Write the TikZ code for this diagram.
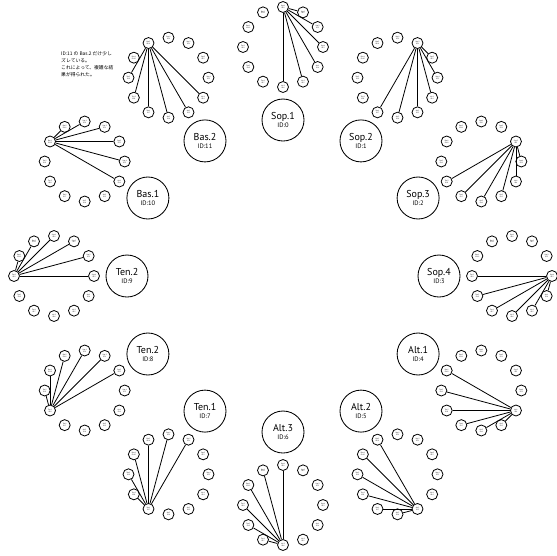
\documentclass[tikz,border=0pt]{standalone}
\usepackage{fontspec}
\setmainfont{PT Sans}
\newfontfamily\jpfont{Noto Sans CJK JP}
\begin{document}
\begin{tikzpicture}[x=1pt,y=-1pt,
  bignode/.style={draw,circle,line width=0.85pt,minimum size=42pt,inner sep=0pt,align=center,font=\fontsize{10}{9}\selectfont},
  smallnode/.style={draw,circle,line width=0.8pt,minimum size=11pt,inner sep=0pt,align=center,font=\fontsize{1.7}{1.9}\selectfont},
  link/.style={line width=0.8pt},
  note/.style={align=left,inner sep=0pt,font=\jpfont\fontsize{4.8}{7}\selectfont}]
\useasboundingbox (0,0) rectangle (557,555);
\def\cx{283}
\def\cy{276}
\def\names{{"Sop.1","Sop.2","Sop.3","Sop.4","Alt.1","Alt.2","Alt.3","Ten.1","Ten.2","Ten.2","Bas.1","Bas.2"}}
\foreach \k in {0,...,11} {
  \pgfmathsetmacro\bx{\cx+156*sin(30*\k)}
  \pgfmathsetmacro\by{\cy-156*cos(30*\k)}
  \pgfmathsetmacro\nm{\names[\k]}
  \node[bignode] (B\k) at (\bx,\by) {\nm\\[-1pt]{\fontsize{6.5}{6.5}\selectfont ID:\k}};
  \pgfmathsetmacro\rx{\cx+229*sin(30*\k)}
  \pgfmathsetmacro\ry{\cy-229*cos(30*\k)}
  \foreach \j in {0,...,11} {
    \pgfmathsetmacro\sx{\rx+40*sin(30*\j)}
    \pgfmathsetmacro\sy{\ry-40*cos(30*\j)}
    \pgfmathsetmacro\sm{\names[\j]}
    \node[smallnode] (S\k-\j) at (\sx,\sy) {\sm\\ID:\j};
  }
  \pgfmathtruncatemacro\off{\k==11 ? 4 : 0}
  \foreach \d in {1,...,6} {
    \pgfmathtruncatemacro\t{mod(\k+\d+\off,12)}
    \draw[link] (S\k-\k) -- (S\k-\t);
  }
}
\node[note,anchor=north west] (memo) at (61,51) {ID:11 の Bas.2 だけ少し\\ズレている。\\これによって、複雑な結\\果が得られた。};
\end{tikzpicture}
\end{document}
